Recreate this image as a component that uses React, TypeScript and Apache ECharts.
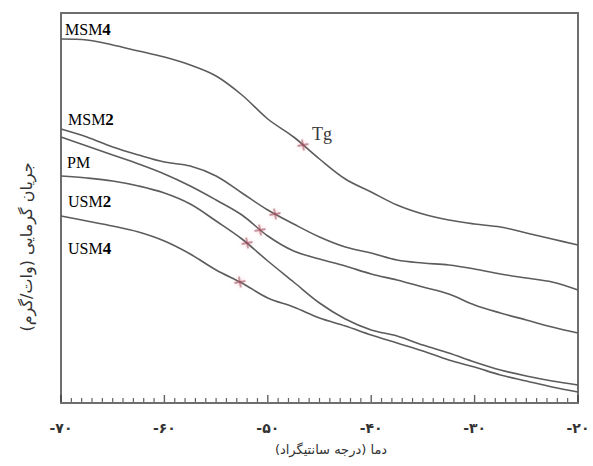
import React, { useEffect, useRef } from "react";
import * as echarts from "echarts";

// Temperature grid (°C) shared by all curves
const temps = [-70, -67.5, -65, -62.5, -60, -57.5, -55, -52.5, -50, -47.5, -45, -42.5, -40, -37.5, -35, -32.5, -30, -27.5, -25, -22.5, -20];

// Heat flow (arbitrary units)
const msm4 = [364, 363, 358, 352, 346, 338, 327, 308, 284, 266, 244, 224, 211, 198, 189, 183, 179, 176, 170, 164, 158];
const msm2 = [274, 266, 256, 248, 241, 237, 227, 210, 193, 179, 166, 156, 150, 143, 140, 138, 134, 129, 125, 121, 113];
const pm = [266, 257, 248, 239, 229, 217, 203, 188, 167, 152, 144, 137, 129, 123, 116, 109, 98, 90, 83, 76, 70];
const usm2 = [227, 225, 222, 217, 210, 199, 182, 164, 142, 121, 100, 84, 73, 67, 58, 50, 41, 33, 27, 22, 18];
const usm4 = [187, 182, 177, 171, 162, 149, 133, 120, 105, 96, 85, 77, 68, 60, 52, 43, 36, 28, 22, 16, 11];

// Glass transition (Tg) marks
const tgT = [-46.6, -49.3, -50.75, -52.0, -52.7];
const tgH = [258, 189, 173, 160, 121];

const xTickValues = [-70, -60, -50, -40, -30, -20];
const xTickLabels = ["-۷۰", "-۶۰", "-۵۰", "-۴۰", "-۳۰", "-۲۰"];
// tick marks every 1 °C along the temperature axis (major every 10)
const xMinorStep = 1;

const xTitle = "دما (درجه سانتیگراد)";
const yTitle = "جریان گرمایی (وات/گرم)";

const curveNames = ["MSM4", "MSM2", "PM", "USM2", "USM4"];
const curveH = [msm4, msm2, pm, usm2, usm4];

const labelParts = [
  ["MSM", "4"],
  ["MSM", "2"],
  ["PM", ""],
  ["USM", "2"],
  ["USM", "4"],
];
const labelPos = [
  [65, 29],
  [68, 119],
  [67, 162],
  [68, 201],
  [68, 248],
];

export default function App() {
  const ref = useRef<HTMLDivElement>(null);
  useEffect(() => {
    if (!ref.current) return;
    const chart = echarts.init(ref.current, null, { renderer: "svg" });
    const lineColor = "#5c5c5c";
    const frame = { color: "#6e6e6e", width: 2 };
    const series: any[] = curveNames.map((name, i) => ({
      type: "line",
      name,
      data: temps.map((t, j) => [t, curveH[i][j]]),
      smooth: 0.35,
      showSymbol: false,
      lineStyle: { color: lineColor, width: 1.6 },
      z: 2,
    }));
    series.push({
      type: "scatter",
      name: "Tg",
      data: tgT.map((t, j) => [t, tgH[j]]),
      symbol: "path://M4.4,0h1.2v10h-1.2zM0,4.4h10v1.2h-10z",
      symbolSize: 11,
      symbolRotate: 10,
      itemStyle: { color: "#9c4a5a", shadowBlur: 4, shadowColor: "rgba(230,120,140,0.6)" },
      z: 3,
    });

    // axis tick marks placed through the x scale
    const tickData: any[] = [];
    for (let v = -70; v <= -20; v += xMinorStep) {
      const major = v % 10 === 0;
      tickData.push({
        value: [v, 0],
        symbolSize: major ? [1.4, 7] : [1.2, 4],
        symbolOffset: major ? [0, -4.5] : [0, -3],
      });
    }
    series.push({
      type: "scatter",
      name: "ticks",
      silent: true,
      clip: false,
      symbol: "rect",
      data: tickData,
      itemStyle: { color: "#3a3a3a" },
      z: 5,
    });

    const graphics: any[] = labelParts.map((p, i) => ({
      type: "text",
      x: labelPos[i][0],
      y: labelPos[i][1],
      style: {
        text: p[1] ? `{n|${p[0]}}{d|${p[1]}}` : `{n|${p[0]}}`,
        rich: {
          n: { fontFamily: "Liberation Serif", fontSize: 16, color: "#3a3a3a" },
          d: { fontFamily: "Liberation Serif", fontSize: 17, fontWeight: "bold", color: "#222" },
        },
        verticalAlign: "middle",
        align: "left",
      },
    }));
    graphics.push({
      type: "text",
      x: 312,
      y: 134,
      style: {
        text: "Tg",
        fontFamily: "Liberation Serif",
        fontSize: 18,
        fill: "#3a3a3a",
        verticalAlign: "middle",
        align: "left",
      },
    });
    graphics.push({
      type: "text",
      x: 331,
      y: 449,
      style: {
        text: xTitle,
        fontFamily: "DejaVu Sans",
        fontSize: 13,
        fill: "#333",
        align: "center",
        verticalAlign: "middle",
      },
    });
    graphics.push({
      type: "text",
      x: 26,
      y: 247,
      rotation: Math.PI / 2,
      style: {
        text: yTitle,
        fontFamily: "DejaVu Sans",
        fontSize: 16,
        fill: "#333",
        align: "center",
        verticalAlign: "middle",
      },
    });

    chart.setOption({
      animation: false,
      backgroundColor: "#ffffff",
      grid: {
        left: 61,
        top: 13,
        right: 15,
        bottom: 63,
        show: false,
      },
      xAxis: [
        {
          type: "value",
          min: -70,
          max: -20,
          interval: 10,
          position: "bottom",
          axisLine: { show: true, onZero: false, lineStyle: frame },
          axisTick: { show: false },
          splitLine: { show: false },
          axisLabel: {
            margin: 18,
            fontFamily: "DejaVu Sans",
            fontSize: 14,
            fontWeight: "bold",
            color: "#333",
            formatter: (v: number) => {
              const idx = xTickValues.indexOf(Math.round(v));
              return idx >= 0 ? xTickLabels[idx] : "";
            },
          },
        },
        {
          type: "value",
          min: -70,
          max: -20,
          position: "top",
          axisLine: { show: true, onZero: false, lineStyle: frame },
          axisTick: { show: false },
          axisLabel: { show: false },
          splitLine: { show: false },
        },
      ],
      yAxis: [
        {
          type: "value",
          min: 0,
          max: 390,
          position: "left",
          axisLine: { show: true, onZero: false, lineStyle: frame },
          axisTick: { show: false },
          axisLabel: { show: false },
          splitLine: { show: false },
        },
        {
          type: "value",
          min: 0,
          max: 390,
          position: "right",
          axisLine: { show: true, onZero: false, lineStyle: frame },
          axisTick: { show: false },
          axisLabel: { show: false },
          splitLine: { show: false },
        },
      ],
      series,
      graphic: graphics,
    });
    return () => chart.dispose();
  }, []);
  return (
    <div
      ref={ref}
      style={{ position: "fixed", left: 0, top: 0, width: 593, height: 466 }}
    />
  );
}
